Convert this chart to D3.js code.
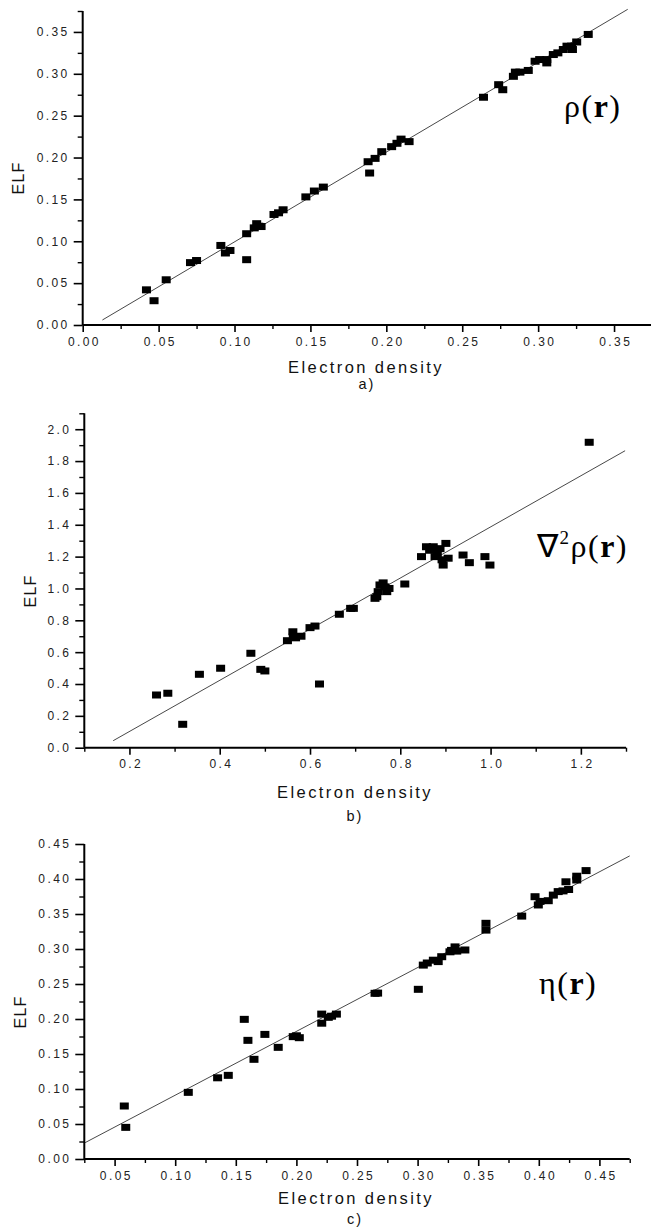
<!DOCTYPE html>
<html><head><meta charset="utf-8">
<script src="https://cdn.jsdelivr.net/npm/d3@7"></script>
<style>
body{margin:0;background:#fff}
svg{display:block}
.tick text{font-family:"Liberation Sans",Arial,sans-serif;font-size:12px;letter-spacing:2.4px;fill:#222}
.ttl{font-family:"Liberation Sans",Arial,sans-serif;fill:#111}
.ann{font-family:"Liberation Serif","Times New Roman",serif;fill:#000}
</style></head><body>
<svg id="chart" width="651" height="1231"></svg>
<script>
// ---------- DATA ----------
const aX = [0.042,0.047,0.055,0.071,0.075,0.091,0.094,0.097,0.108,0.108,0.113,0.1146,0.116,0.1175,0.126,0.129,0.132,0.147,0.1526,0.1585,0.188,0.189,0.1926,0.197,0.2035,0.207,0.2097,0.215,0.264,0.274,0.2767,0.2837,0.285,0.288,0.2935,0.298,0.301,0.3057,0.3057,0.310,0.313,0.3166,0.319,0.322,0.3226,0.3254,0.333];
const aY = [0.042,0.029,0.054,0.0745,0.077,0.095,0.086,0.089,0.109,0.078,0.116,0.121,0.118,0.1176,0.132,0.134,0.1376,0.153,0.160,0.1647,0.195,0.1815,0.199,0.207,0.213,0.217,0.222,0.219,0.272,0.287,0.281,0.297,0.302,0.302,0.304,0.315,0.317,0.317,0.313,0.323,0.325,0.329,0.333,0.333,0.329,0.338,0.347];
const bX = [0.260,0.285,0.318,0.355,0.402,0.469,0.491,0.500,0.550,0.562,0.563,0.568,0.580,0.600,0.611,0.621,0.665,0.690,0.696,0.744,0.748,0.751,0.755,0.762,0.766,0.770,0.775,0.810,0.847,0.858,0.865,0.873,0.877,0.882,0.888,0.8925,0.895,0.901,0.906,0.939,0.953,0.9875,0.9986,1.2185];
const bY = [0.331,0.342,0.147,0.461,0.499,0.593,0.492,0.482,0.672,0.728,0.697,0.690,0.700,0.754,0.764,0.400,0.838,0.875,0.875,0.938,0.948,0.980,1.022,1.035,1.010,0.980,1.000,1.028,1.200,1.262,1.240,1.262,1.200,1.220,1.250,1.180,1.147,1.283,1.190,1.210,1.162,1.200,1.147,1.918];
const cX = [0.058,0.0592,0.1108,0.135,0.1438,0.157,0.160,0.165,0.174,0.185,0.1974,0.200,0.2024,0.2209,0.2209,0.2263,0.229,0.233,0.2649,0.267,0.3006,0.3047,0.308,0.313,0.317,0.3199,0.3267,0.328,0.3309,0.3323,0.339,0.3564,0.3564,0.3859,0.3969,0.3996,0.401,0.4078,0.412,0.416,0.420,0.4224,0.4246,0.4313,0.4313,0.439];
const cY = [0.0757,0.0452,0.0952,0.116,0.1195,0.1995,0.1695,0.1424,0.178,0.1595,0.1748,0.176,0.1733,0.207,0.194,0.2024,0.204,0.207,0.2367,0.237,0.2424,0.277,0.280,0.284,0.282,0.289,0.296,0.298,0.303,0.297,0.2986,0.3367,0.327,0.347,0.3747,0.3629,0.368,0.369,0.377,0.382,0.383,0.396,0.385,0.3986,0.404,0.412];
// fitted lines: [x0, y0, x1, y1]
const fitA = [0.013, 0.006, 0.359, 0.377];
const fitB = [0.164, 0.044, 1.298, 1.865];
const fitC = [0.0256, 0.0233, 0.475, 0.433];
// tick values
const aMajorX = [0,0.05,0.10,0.15,0.20,0.25,0.30,0.35];
const aMajorY = [0,0.05,0.10,0.15,0.20,0.25,0.30,0.35];
const aMinor  = [0.025,0.075,0.125,0.175,0.225,0.275,0.325,0.375];
const bMajorX = [0.2,0.4,0.6,0.8,1.0,1.2];
const bMinorX = [0.1,0.3,0.5,0.7,0.9,1.1,1.3];
const bMajorY = [0,0.2,0.4,0.6,0.8,1.0,1.2,1.4,1.6,1.8,2.0];
const bMinorY = [0.1,0.3,0.5,0.7,0.9,1.1,1.3,1.5,1.7,1.9,2.1];
const cMajorX = [0.05,0.10,0.15,0.20,0.25,0.30,0.35,0.40,0.45];
const cMinorX = [0.025,0.075,0.125,0.175,0.225,0.275,0.325,0.375,0.425,0.475];
const cMajorY = [0,0.05,0.10,0.15,0.20,0.25,0.30,0.35,0.40,0.45];
const cMinorY = [0.025,0.075,0.125,0.175,0.225,0.275,0.325,0.375,0.425];
// texts
const xTitle = "Electron density";
const yTitle = "ELF";
const panelTags = ["a)","b)","c)"];

// ---------- DRAW ----------
const svg = d3.select("#chart");

const panels = [
  {xs:aX, ys:aY, fit:fitA, xd:[0,0.375], xr:[82.7,652], yd:[0,0.375], yr:[325,11],
   mx:aMajorX, nx:aMinor, my:aMajorY, ny:aMinor, fx:".2f", fy:".2f",
   yT:[18,178], xT:[366,373], tag:[367,389], ann:{x:564,y:117,kind:"rho"}},
  {xs:bX, ys:bY, fit:fitB, xd:[0.1,1.3], xr:[84.3,626], yd:[0,2.1], yr:[747.7,413.3],
   mx:bMajorX, nx:bMinorX, my:bMajorY, ny:bMinorY, fx:".1f", fy:".1f",
   yT:[30,591], xT:[355,798], tag:[355,821], ann:{x:537,y:557,kind:"lap"}},
  {xs:cX, ys:cY, fit:fitC, xd:[0.025,0.475], xr:[84.3,629.7], yd:[0,0.45], yr:[1159,844],
   mx:cMajorX, nx:cMinorX, my:cMajorY, ny:cMinorY, fx:".2f", fy:".2f",
   yT:[20,1012], xT:[356,1204], tag:[355,1224], ann:{x:539,y:994,kind:"eta"}}
];

panels.forEach((p,i)=>{
  const x = d3.scaleLinear().domain(p.xd).range(p.xr);
  const y = d3.scaleLinear().domain(p.yd).range(p.yr);
  const x0 = p.xr[0], y0 = p.yr[0];
  const g = svg.append("g");

  // minor ticks
  g.append("g").attr("transform",`translate(0,${y0})`)
    .call(d3.axisBottom(x).tickValues(p.nx).tickSize(4).tickFormat(""))
    .call(s=>s.select(".domain").remove())
    .call(s=>s.selectAll("line").attr("stroke","#000").attr("stroke-width",1.4));
  g.append("g").attr("transform",`translate(${x0},0)`)
    .call(d3.axisLeft(y).tickValues(p.ny).tickSize(5).tickFormat(""))
    .call(s=>s.select(".domain").remove())
    .call(s=>s.selectAll("line").attr("stroke","#000").attr("stroke-width",1.4));
  // major ticks
  const xa = g.append("g").attr("transform",`translate(0,${y0})`)
    .call(d3.axisBottom(x).tickValues(p.mx).tickSize(7).tickPadding(5).tickFormat(d3.format(p.fx)));
  xa.select(".domain").attr("stroke","#000").attr("stroke-width",2).attr("d",`M${p.xr[0]},0H${p.xr[1]}`);
  xa.selectAll(".tick line").attr("stroke","#000").attr("stroke-width",1.6);
  xa.selectAll(".tick text").attr("dx","1.2px");
  const ya = g.append("g").attr("transform",`translate(${x0},0)`)
    .call(d3.axisLeft(y).tickValues(p.my).tickSize(9).tickPadding(4).tickFormat(d3.format(p.fy)));
  ya.select(".domain").attr("stroke","#000").attr("stroke-width",2).attr("d",`M0,${p.yr[0]}V${p.yr[1]}`);
  ya.selectAll(".tick line").attr("stroke","#000").attr("stroke-width",1.6);

  // fit line
  g.append("line")
    .attr("x1",x(p.fit[0])).attr("y1",y(p.fit[1]))
    .attr("x2",x(p.fit[2])).attr("y2",y(p.fit[3]))
    .attr("stroke","#333").attr("stroke-width",0.9);

  // points
  const pts = p.xs.map((v,k)=>[v,p.ys[k]]);
  g.selectAll("rect.pt").data(pts).join("rect").attr("class","pt")
    .attr("x",d=>x(d[0])-4.5).attr("y",d=>y(d[1])-3.5)
    .attr("width",9).attr("height",7).attr("fill","#000");

  // titles
  g.append("text").attr("class","ttl")
    .attr("transform",`translate(${p.yT[0]+5.5},${p.yT[1]}) rotate(-90)`)
    .attr("text-anchor","middle").attr("font-size",16).attr("letter-spacing","1.2px").text(yTitle);
  g.append("text").attr("class","ttl").attr("x",p.xT[0]).attr("y",p.xT[1])
    .attr("text-anchor","middle").attr("font-size",16.5).attr("letter-spacing","2.4px").text(xTitle);
  g.append("text").attr("class","ttl").attr("x",p.tag[0]).attr("y",p.tag[1])
    .attr("text-anchor","middle").attr("font-size",14.5).attr("letter-spacing","2px").text(panelTags[i]);

  // annotation
  const t = g.append("text").attr("class","ann").attr("x",p.ann.x).attr("y",p.ann.y)
    .attr("font-size",32).attr("letter-spacing","1.5px");
  if(p.ann.kind==="lap"){
    t.append("tspan").text("\u2207");
    t.append("tspan").attr("font-size",19).attr("dy",-13).text("2");
    t.append("tspan").attr("dy",13).text("\u03C1(");
  } else {
    t.append("tspan").text(p.ann.kind==="rho" ? "\u03C1(" : "\u03B7(");
  }
  t.append("tspan").attr("font-weight","bold").text("r");
  t.append("tspan").text(")");
});
</script>
</body></html>
